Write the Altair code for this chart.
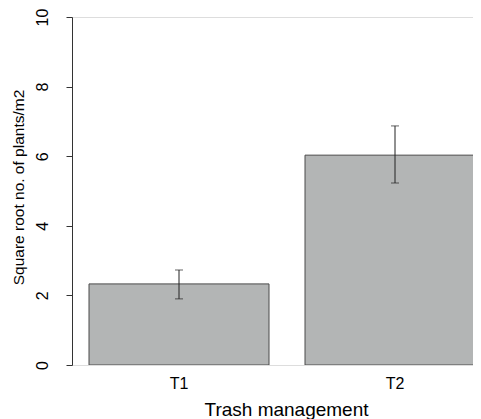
import altair as alt
import pandas as pd

categories = ["T1", "T2"]
means = [2.33, 6.03]
lower = [1.90, 5.23]
upper = [2.73, 6.87]

df = pd.DataFrame({"trt": categories, "mean": means, "lo": lower, "hi": upper})

FONT = "Liberation Sans"

xscale = alt.Scale(range=[17, 413], paddingInner=1/6, paddingOuter=0)
yscale = alt.Scale(domain=[0, 10], nice=False, zero=True)

x_enc = alt.X(
    "trt:N",
    scale=xscale,
    sort=categories,
    axis=alt.Axis(
        title="Trash management",
        domain=False,
        ticks=False,
        labelAngle=0,
        labelPadding=10,
        labelFontSize=16,
        labelFont=FONT,
        labelColor="black",
        titleFont=FONT,
        titleFontSize=19,
        titleFontWeight="normal",
        titleColor="black",
        titleX=214,
        titleY=44,
        titleBaseline="middle",
    ),
)

y_axis = alt.Axis(
    title="Square root no. of plants/m2",
    values=[0, 2, 4, 6, 8, 10],
    grid=False,
    domainColor="#333333",
    tickColor="#333333",
    tickSize=6,
    labelAngle=270,
    labelAlign="center",
    labelBaseline="bottom",
    labelPadding=16,
    labelFontSize=16,
    labelFont=FONT,
    labelColor="black",
    titleFont=FONT,
    titleFontSize=15.5,
    titleFontWeight="normal",
    titleColor="black",
    titleAngle=270,
    titleX=-54,
    titleY=170,
    titleBaseline="middle",
)

bars = alt.Chart(df).mark_bar(
    color="#b3b5b5", stroke="#4a4a4a", strokeWidth=1, clip=True
).encode(
    x=x_enc,
    y=alt.Y("mean:Q", scale=yscale, axis=y_axis),
)

rules = alt.Chart(df).mark_rule(color="#222222", strokeWidth=1).encode(
    x=alt.X("trt:N", scale=xscale, sort=categories),
    y=alt.Y("lo:Q", scale=yscale),
    y2="hi:Q",
)

caps_hi = alt.Chart(df).mark_tick(color="#222222", size=8, thickness=1).encode(
    x=alt.X("trt:N", scale=xscale, sort=categories),
    y=alt.Y("hi:Q", scale=yscale),
)
caps_lo = alt.Chart(df).mark_tick(color="#222222", size=8, thickness=1).encode(
    x=alt.X("trt:N", scale=xscale, sort=categories),
    y=alt.Y("lo:Q", scale=yscale),
)

chart = alt.layer(bars, rules, caps_hi, caps_lo).properties(
    width=401,
    height=348,
    autosize="none",
    padding={"left": 64, "top": 9, "right": 0, "bottom": 54},
).configure_view(stroke=None).configure(background="white")

chart.save("out.html", embed_options={"renderer": "svg", "actions": False})
